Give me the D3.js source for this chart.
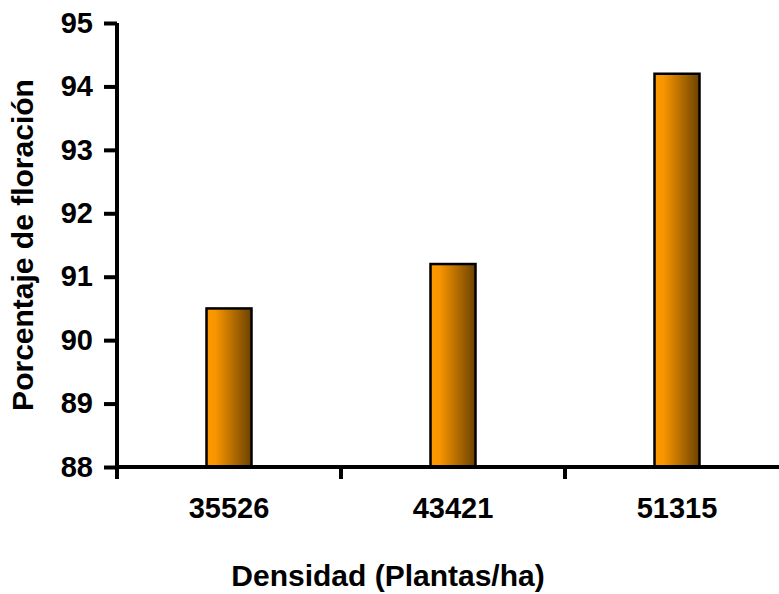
<!DOCTYPE html>
<html><head><meta charset="utf-8">
<script src="https://cdn.jsdelivr.net/npm/d3@7"></script>
<style>body{margin:0;background:#fff}svg{display:block}text{font-family:"Liberation Sans",Arial,sans-serif;font-weight:bold}</style>
</head><body>
<script>
const categories = ["35526", "43421", "51315"];
const values = [90.5, 91.2, 94.2];
const yTicks = [88, 89, 90, 91, 92, 93, 94, 95];

(function () {
const W = 779, H = 594;
const svg = d3.select("body").append("svg").attr("width", W).attr("height", H);
const mLeft = 117, mRight = 789, mTop = 23, mBottom = 467;
const FONT = "Liberation Sans, Arial, sans-serif";

const x = d3.scaleBand().domain(categories).range([mLeft, mRight]).paddingInner(0).paddingOuter(0);
const y = d3.scaleLinear().domain([88, 95]).range([mBottom, mTop]);

const defs = svg.append("defs");
const g = defs.append("linearGradient").attr("id", "grad").attr("x1", "0").attr("x2", "1").attr("y1", "0").attr("y2", "0");
g.append("stop").attr("offset", "0").attr("stop-color", "#ff9900");
g.append("stop").attr("offset", "0.2").attr("stop-color", "#f89500");
g.append("stop").attr("offset", "1").attr("stop-color", "#6b4200");

const bw = 45;
svg.selectAll("rect.bar").data(values).join("rect").attr("class", "bar")
  .attr("x", (d, i) => x(categories[i]) + x.bandwidth() / 2 - bw / 2)
  .attr("width", bw)
  .attr("y", d => y(d))
  .attr("height", d => mBottom - y(d))
  .attr("fill", "url(#grad)")
  .attr("stroke", "#000").attr("stroke-width", 2.5);

const ya = svg.append("g").attr("transform", `translate(${mLeft},0)`)
  .call(d3.axisLeft(y).tickValues(yTicks).tickSize(13).tickPadding(11).tickFormat(d3.format("d")));
ya.select(".domain").attr("stroke", "#000").attr("stroke-width", 4).attr("d", `M0,${mTop}V${mBottom}`);
ya.selectAll(".tick line").attr("stroke-width", 4);
ya.selectAll(".tick text").attr("font-size", 29).attr("fill", "#000").attr("font-family", FONT).attr("font-weight", "bold");

const xa = svg.append("g").attr("transform", `translate(0,${mBottom})`)
  .call(d3.axisBottom(x).tickSize(0).tickPadding(40));
xa.select(".domain").attr("stroke", "#000").attr("stroke-width", 4).attr("d", `M${mLeft},0H${W}`);
xa.selectAll(".tick text").attr("font-size", 29).attr("fill", "#000").attr("font-family", FONT).attr("font-weight", "bold").attr("dy", null).attr("y", 51);
const bounds = [mLeft, ...categories.map(c => x(c) + x.bandwidth())].filter(v => v < W);
svg.append("g").selectAll("line").data(bounds).join("line")
  .attr("x1", d => d).attr("x2", d => d).attr("y1", mBottom).attr("y2", mBottom + 12)
  .attr("stroke", "#000").attr("stroke-width", 4);

svg.append("text").attr("x", 388).attr("y", 586).attr("text-anchor", "middle").attr("font-size", 30).text("Densidad (Plantas/ha)");
svg.append("text").attr("transform", "translate(33,245) rotate(-90)").attr("text-anchor", "middle").attr("font-size", 30).text("Porcentaje de floración");
})();
</script>
</body></html>
